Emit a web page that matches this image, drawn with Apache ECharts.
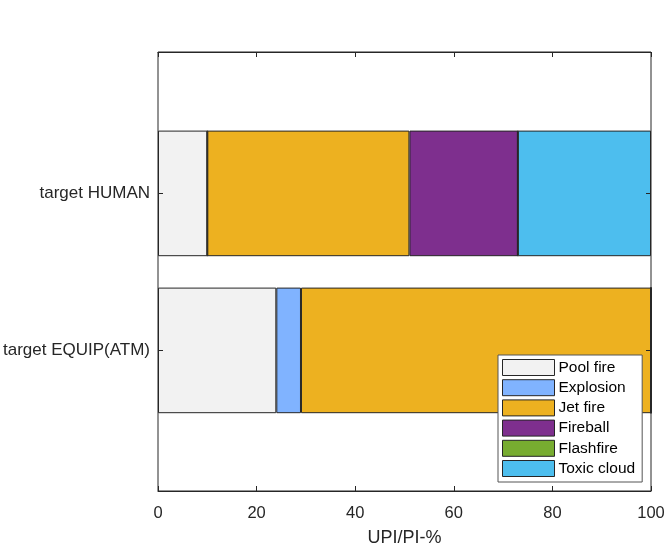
<!DOCTYPE html>
<html>
<head>
<meta charset="utf-8">
<script src="https://cdn.jsdelivr.net/npm/echarts@6/dist/echarts.min.js"></script>
<style>
html,body{margin:0;padding:0;background:#fff;}
#chart{width:667px;height:547px;}
</style>
</head>
<body>
<div id="chart"></div>
<script>
// ---- data ----
const categories = ['target EQUIP(ATM)', 'target HUMAN'];
const seriesNames = ['Pool fire', 'Explosion', 'Jet fire', 'Fireball', 'Flashfire', 'Toxic cloud'];
const poolFire   = [24, 10];
const explosion  = [5, 0];
const jetFire    = [71, 41];
const fireball   = [0, 22];
const flashfire  = [0, 0];
const toxicCloud = [0, 27];
const xTicks = [0, 20, 40, 60, 80, 100];
const xAxisName = 'UPI/PI-%';

const seriesValues = [poolFire, explosion, jetFire, fireball, flashfire, toxicCloud];
const colors = ['#F2F2F2', '#80B3FF', '#EDB120', '#7E2F8E', '#77AC30', '#4DBEEE'];
const FONT = "'Liberation Sans', Arial, Helvetica, sans-serif";
const AX = '#262626';

const chart = echarts.init(document.getElementById('chart'), null, {renderer: 'canvas'});

const gridL = 158, gridW = 493;
const option = {
  animation: false,
  backgroundColor: '#ffffff',
  textStyle: {fontFamily: FONT},
  grid: [
    {left: gridL, width: gridW, top: 52, height: 439, show: true, borderColor: AX, borderWidth: 1, backgroundColor: 'transparent', z: 5, containLabel: false, outerBoundsMode: 'none'},
    {left: gridL, width: gridW, top: 114.9, height: 314, show: false, containLabel: false, outerBoundsMode: 'none'}
  ],
  xAxis: [
    {
      gridIndex: 0, type: 'value', position: 'bottom',
      min: xTicks[0], max: xTicks[xTicks.length - 1], interval: xTicks[1] - xTicks[0],
      axisLine: {show: true, lineStyle: {color: AX, width: 1}},
      axisTick: {show: true, inside: true, length: 5, lineStyle: {color: AX}},
      axisLabel: {color: AX, fontSize: 16.5, fontFamily: FONT, margin: 14},
      splitLine: {show: false},
      name: xAxisName, nameLocation: 'middle', nameGap: 38,
      nameTextStyle: {color: AX, fontSize: 18, fontFamily: FONT},
      z: 6
    },
    {
      gridIndex: 0, type: 'value', position: 'top',
      min: xTicks[0], max: xTicks[xTicks.length - 1], interval: xTicks[1] - xTicks[0],
      axisLine: {show: true, lineStyle: {color: AX, width: 1}},
      axisTick: {show: true, inside: true, length: 5, lineStyle: {color: AX}},
      axisLabel: {show: false},
      splitLine: {show: false},
      z: 6
    },
    {
      gridIndex: 1, type: 'value', min: 0, max: 100, show: false
    }
  ],
  yAxis: [
    {gridIndex: 0, type: 'value', show: false, min: 0, max: 1},
    {
      gridIndex: 1, type: 'category', data: categories, position: 'left',
      axisLine: {show: false},
      axisTick: {show: true, inside: true, alignWithLabel: true, length: 5, lineStyle: {color: AX}},
      axisLabel: {color: AX, fontSize: 17, fontFamily: FONT, margin: 8},
      z: 6
    },
    {
      gridIndex: 1, type: 'category', data: categories, position: 'right',
      axisLine: {show: false},
      axisTick: {show: true, inside: true, alignWithLabel: true, length: 5, lineStyle: {color: AX}},
      axisLabel: {show: false},
      z: 6
    }
  ],
  legend: {
    orient: 'vertical',
    left: 498, top: 355,
    data: seriesNames,
    backgroundColor: '#ffffff',
    borderColor: '#555555', borderWidth: 1,
    padding: [4, 7, 5, 4],
    itemWidth: 52, itemHeight: 16, itemGap: 3.2,
    icon: 'rect',
    itemStyle: {borderColor: '#262626', borderWidth: 1},
    textStyle: {color: '#000000', fontSize: 15.5, lineHeight: 16, fontFamily: FONT, padding: [0, 0, 0, -1]},
    selectedMode: false,
    z: 10
  },
  series: seriesNames.map((name, i) => ({
    name: name,
    type: 'bar',
    xAxisIndex: 2,
    yAxisIndex: 1,
    stack: 'total',
    barWidth: '80%',
    data: seriesValues[i],
    itemStyle: {color: colors[i], borderColor: '#262626', borderWidth: 1},
    emphasis: {disabled: true}
  }))
};
chart.setOption(option);
</script>
</body>
</html>
